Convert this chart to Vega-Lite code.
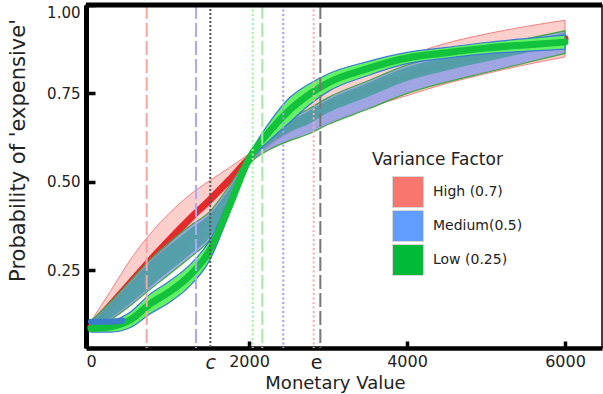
{
  "$schema": "https://vega.github.io/schema/vega-lite/v6.json",
  "width": 516,
  "height": 343,
  "autosize": {"type": "none"},
  "padding": {"left": 86, "top": 5, "right": 1, "bottom": 46},
  "background": "white",
  "config": {"view": {"stroke": "black", "strokeWidth": 1.5}, "font": "DejaVu Sans", "axis": {"grid": false}},
  "datasets": {
    "curves": [
      {"series": "High", "x": 0, "mid": 0.090, "lo": 0.075, "hi": 0.105},
      {"series": "High", "x": 250, "mid": 0.152, "lo": 0.112, "hi": 0.192},
      {"series": "High", "x": 500, "mid": 0.215, "lo": 0.150, "hi": 0.280},
      {"series": "High", "x": 750, "mid": 0.278, "lo": 0.203, "hi": 0.353},
      {"series": "High", "x": 1000, "mid": 0.338, "lo": 0.263, "hi": 0.413},
      {"series": "High", "x": 1250, "mid": 0.395, "lo": 0.327, "hi": 0.463},
      {"series": "High", "x": 1500, "mid": 0.448, "lo": 0.393, "hi": 0.503},
      {"series": "High", "x": 1750, "mid": 0.505, "lo": 0.470, "hi": 0.540},
      {"series": "High", "x": 2000, "mid": 0.565, "lo": 0.550, "hi": 0.580},
      {"series": "High", "x": 2250, "mid": 0.612, "lo": 0.592, "hi": 0.632},
      {"series": "High", "x": 2500, "mid": 0.648, "lo": 0.618, "hi": 0.678},
      {"series": "High", "x": 2750, "mid": 0.682, "lo": 0.644, "hi": 0.720},
      {"series": "High", "x": 3000, "mid": 0.712, "lo": 0.667, "hi": 0.757},
      {"series": "High", "x": 3500, "mid": 0.760, "lo": 0.708, "hi": 0.812},
      {"series": "High", "x": 4000, "mid": 0.800, "lo": 0.744, "hi": 0.856},
      {"series": "High", "x": 4500, "mid": 0.835, "lo": 0.778, "hi": 0.892},
      {"series": "High", "x": 5000, "mid": 0.862, "lo": 0.806, "hi": 0.918},
      {"series": "High", "x": 5500, "mid": 0.885, "lo": 0.831, "hi": 0.939},
      {"series": "High", "x": 6000, "mid": 0.905, "lo": 0.853, "hi": 0.957},
      {"series": "Medium", "x": 0, "mid": 0.095, "lo": 0.083, "hi": 0.107, "tlo": 0.087, "thi": 0.103},
      {"series": "Medium", "x": 250, "mid": 0.135, "lo": 0.110, "hi": 0.160, "tlo": 0.115, "thi": 0.155},
      {"series": "Medium", "x": 500, "mid": 0.185, "lo": 0.150, "hi": 0.220, "tlo": 0.157, "thi": 0.213},
      {"series": "Medium", "x": 750, "mid": 0.238, "lo": 0.196, "hi": 0.280, "tlo": 0.204, "thi": 0.272},
      {"series": "Medium", "x": 1000, "mid": 0.285, "lo": 0.240, "hi": 0.330, "tlo": 0.249, "thi": 0.321},
      {"series": "Medium", "x": 1250, "mid": 0.330, "lo": 0.285, "hi": 0.375, "tlo": 0.294, "thi": 0.366},
      {"series": "Medium", "x": 1500, "mid": 0.375, "lo": 0.335, "hi": 0.415, "tlo": 0.343, "thi": 0.407},
      {"series": "Medium", "x": 1750, "mid": 0.460, "lo": 0.432, "hi": 0.488, "tlo": 0.440, "thi": 0.480},
      {"series": "Medium", "x": 2000, "mid": 0.560, "lo": 0.548, "hi": 0.572, "tlo": 0.552, "thi": 0.568},
      {"series": "Medium", "x": 2250, "mid": 0.610, "lo": 0.590, "hi": 0.630, "tlo": 0.605, "thi": 0.625},
      {"series": "Medium", "x": 2500, "mid": 0.645, "lo": 0.615, "hi": 0.675, "tlo": 0.640, "thi": 0.670},
      {"series": "Medium", "x": 2750, "mid": 0.670, "lo": 0.635, "hi": 0.705, "tlo": 0.663, "thi": 0.699},
      {"series": "Medium", "x": 3000, "mid": 0.700, "lo": 0.662, "hi": 0.738, "tlo": 0.695, "thi": 0.732},
      {"series": "Medium", "x": 3500, "mid": 0.745, "lo": 0.705, "hi": 0.785, "tlo": 0.740, "thi": 0.779},
      {"series": "Medium", "x": 4000, "mid": 0.790, "lo": 0.750, "hi": 0.830, "tlo": 0.785, "thi": 0.824},
      {"series": "Medium", "x": 4500, "mid": 0.820, "lo": 0.782, "hi": 0.858, "tlo": 0.815, "thi": 0.852},
      {"series": "Medium", "x": 5000, "mid": 0.845, "lo": 0.809, "hi": 0.881, "tlo": 0.840, "thi": 0.875},
      {"series": "Medium", "x": 5500, "mid": 0.870, "lo": 0.836, "hi": 0.904, "tlo": 0.865, "thi": 0.898},
      {"series": "Medium", "x": 6000, "mid": 0.895, "lo": 0.863, "hi": 0.927, "tlo": 0.890, "thi": 0.921},
      {"series": "Low", "x": 0, "mid": 0.085, "lo": 0.075, "hi": 0.095},
      {"series": "Low", "x": 250, "mid": 0.090, "lo": 0.075, "hi": 0.105},
      {"series": "Low", "x": 500, "mid": 0.110, "lo": 0.088, "hi": 0.132},
      {"series": "Low", "x": 750, "mid": 0.155, "lo": 0.127, "hi": 0.183},
      {"series": "Low", "x": 1000, "mid": 0.190, "lo": 0.160, "hi": 0.220},
      {"series": "Low", "x": 1250, "mid": 0.235, "lo": 0.205, "hi": 0.265},
      {"series": "Low", "x": 1500, "mid": 0.305, "lo": 0.277, "hi": 0.333},
      {"series": "Low", "x": 1750, "mid": 0.430, "lo": 0.410, "hi": 0.450},
      {"series": "Low", "x": 2000, "mid": 0.565, "lo": 0.555, "hi": 0.575},
      {"series": "Low", "x": 2250, "mid": 0.640, "lo": 0.615, "hi": 0.665},
      {"series": "Low", "x": 2500, "mid": 0.700, "lo": 0.665, "hi": 0.735},
      {"series": "Low", "x": 2750, "mid": 0.745, "lo": 0.715, "hi": 0.775},
      {"series": "Low", "x": 3000, "mid": 0.780, "lo": 0.755, "hi": 0.805},
      {"series": "Low", "x": 3500, "mid": 0.820, "lo": 0.800, "hi": 0.840},
      {"series": "Low", "x": 4000, "mid": 0.850, "lo": 0.834, "hi": 0.866},
      {"series": "Low", "x": 4500, "mid": 0.865, "lo": 0.850, "hi": 0.880},
      {"series": "Low", "x": 5000, "mid": 0.878, "lo": 0.862, "hi": 0.894},
      {"series": "Low", "x": 5500, "mid": 0.887, "lo": 0.869, "hi": 0.905},
      {"series": "Low", "x": 6000, "mid": 0.895, "lo": 0.875, "hi": 0.915}
    ],
    "blueStart": [
      {"x": 0, "y": 0.104},
      {"x": 200, "y": 0.104},
      {"x": 400, "y": 0.108}
    ],
    "markers": [
      {"marker": "High a", "x": 705},
      {"marker": "Medium a", "x": 1329},
      {"marker": "c", "x": 1510},
      {"marker": "Low a", "x": 2047},
      {"marker": "Low b", "x": 2168},
      {"marker": "Medium b", "x": 2434},
      {"marker": "High b", "x": 2819},
      {"marker": "e", "x": 2903}
    ],
    "frame": [{"y": 1.0}],
    "legendRows": [
      {"series": "High (0.7)", "x": -1000, "y": 0},
      {"series": "Medium(0.5)", "x": -1000, "y": 0},
      {"series": "Low (0.25)", "x": -1000, "y": 0}
    ]
  },
  "layer": [
    {
      "data": {"name": "curves"},
      "transform": [{"filter": "datum.series == 'High'"}],
      "mark": {"type": "area", "interpolate": "monotone", "fill": "#f8766d", "fillOpacity": 0.35, "stroke": "#f08080", "strokeWidth": 1},
      "encoding": {
        "x": {
          "field": "x", "type": "quantitative",
          "scale": {"domain": [-63, 6468], "nice": false, "zero": false},
          "axis": {
            "values": [0, 1510, 2000, 2850, 4000, 6000],
            "labelExpr": "datum.value == 1510 ? 'c' : (datum.value == 2850 ? 'e' : format(datum.value, 'd'))",
            "title": "Monetary Value",
            "grid": false,
            "domainColor": "black", "domainWidth": 4.5,
            "tickColor": "black", "tickWidth": 3.5, "tickSize": -7,
            "tickOpacity": {"condition": {"test": "datum.value == 0 || datum.value == 1510 || datum.value == 2850", "value": 0}, "value": 1},
            "labelFontSize": {"condition": {"test": "datum.value == 1510 || datum.value == 2850", "value": 19}, "value": 16},
            "labelFontStyle": {"condition": {"test": "datum.value == 1510", "value": "italic"}, "value": "normal"},
            "labelFont": "DejaVu Sans", "labelColor": "#222222", "labelPadding": 12,
            "labelFlush": false, "labelOverlap": false,
            "titleFont": "DejaVu Sans", "titleFontSize": 18, "titleFontWeight": "normal", "titleColor": "#222222",
            "titleX": 249, "titleY": 35, "titleBaseline": "middle", "titleAlign": "center"
          }
        },
        "y": {
          "field": "lo", "type": "quantitative",
          "scale": {"domain": [0.03, 1.0], "nice": false, "zero": false},
          "axis": {
            "values": [0.25, 0.5, 0.75, 1.0], "format": ".2f",
            "title": "Probability of 'expensive'",
            "grid": false,
            "domainColor": "black", "domainWidth": 5,
            "tickColor": "black", "tickWidth": 3.5, "tickSize": -9,
            "labelFont": "DejaVu Sans", "labelFontSize": 15, "labelColor": "#222222", "labelPadding": 15, "labelFlush": true,
            "titleFont": "DejaVu Sans", "titleFontSize": 21, "titleFontWeight": "normal", "titleColor": "#222222",
            "titleX": -68, "titleY": 145, "titleBaseline": "middle", "titleAlign": "center", "titleAngle": -90
          }
        },
        "y2": {"field": "hi"}
      }
    },
    {
      "data": {"name": "curves"},
      "transform": [{"filter": "datum.series == 'High'"}],
      "mark": {"type": "line", "interpolate": "monotone", "color": "#e32b2b", "strokeWidth": 7, "strokeCap": "round"},
      "encoding": {
        "x": {"field": "x", "type": "quantitative", "scale": {"domain": [-63, 6468], "nice": false, "zero": false}},
        "y": {"field": "mid", "type": "quantitative", "scale": {"domain": [0.03, 1.0], "nice": false, "zero": false}}
      }
    },
    {
      "data": {"name": "curves"},
      "transform": [{"filter": "datum.series == 'Medium'"}],
      "mark": {"type": "area", "interpolate": "monotone", "fill": "#8e9ce6", "fillOpacity": 0.85, "stroke": "#3fa83f", "strokeWidth": 1.2},
      "encoding": {
        "x": {"field": "x", "type": "quantitative", "scale": {"domain": [-63, 6468], "nice": false, "zero": false}},
        "y": {"field": "lo", "type": "quantitative", "scale": {"domain": [0.03, 1.0], "nice": false, "zero": false}},
        "y2": {"field": "hi"}
      }
    },
    {
      "data": {"name": "curves"},
      "transform": [{"filter": "datum.series == 'Medium'"}],
      "mark": {"type": "area", "interpolate": "monotone", "fill": "#4d9ea3", "fillOpacity": 0.9},
      "encoding": {
        "x": {"field": "x", "type": "quantitative", "scale": {"domain": [-63, 6468], "nice": false, "zero": false}},
        "y": {"field": "tlo", "type": "quantitative", "scale": {"domain": [0.03, 1.0], "nice": false, "zero": false}},
        "y2": {"field": "thi"}
      }
    },
    {
      "data": {"name": "curves"},
      "transform": [{"filter": "datum.series == 'Low'"}],
      "mark": {"type": "area", "interpolate": "monotone", "fill": "#62f262", "fillOpacity": 1, "stroke": "#3b78d8", "strokeWidth": 1.2},
      "encoding": {
        "x": {"field": "x", "type": "quantitative", "scale": {"domain": [-63, 6468], "nice": false, "zero": false}},
        "y": {"field": "lo", "type": "quantitative", "scale": {"domain": [0.03, 1.0], "nice": false, "zero": false}},
        "y2": {"field": "hi"}
      }
    },
    {
      "data": {"name": "curves"},
      "transform": [{"filter": "datum.series == 'Low'"}],
      "mark": {"type": "line", "interpolate": "monotone", "color": "#12c23c", "strokeWidth": 7, "strokeCap": "round"},
      "encoding": {
        "x": {"field": "x", "type": "quantitative", "scale": {"domain": [-63, 6468], "nice": false, "zero": false}},
        "y": {"field": "mid", "type": "quantitative", "scale": {"domain": [0.03, 1.0], "nice": false, "zero": false}}
      }
    },
    {
      "data": {"name": "blueStart"},
      "mark": {"type": "line", "interpolate": "monotone", "color": "#3a7dc9", "strokeWidth": 6, "strokeCap": "round"},
      "encoding": {
        "x": {"field": "x", "type": "quantitative", "scale": {"domain": [-63, 6468], "nice": false, "zero": false}},
        "y": {"field": "y", "type": "quantitative", "scale": {"domain": [0.03, 1.0], "nice": false, "zero": false}}
      }
    },
    {
      "data": {"name": "markers"},
      "mark": {"type": "rule", "strokeWidth": 2},
      "encoding": {
        "x": {"field": "x", "type": "quantitative", "scale": {"domain": [-63, 6468], "nice": false, "zero": false}},
        "stroke": {
          "field": "marker", "type": "nominal", "legend": null,
          "scale": {
            "domain": ["High a", "Medium a", "c", "Low a", "Low b", "Medium b", "High b", "e"],
            "range": ["#f4a6a6", "#aaaaf8", "#555555", "#a0f0a0", "#a0f0a0", "#9c9cf4", "#f8aaaa", "#777777"]
          }
        },
        "strokeDash": {
          "field": "marker", "type": "nominal", "legend": null,
          "scale": {
            "domain": ["High a", "Medium a", "c", "Low a", "Low b", "Medium b", "High b", "e"],
            "range": [[14, 4], [14, 4], [2, 2], [2, 2.5], [14, 4], [2, 2.5], [2, 2.5], [14, 4]]
          }
        }
      }
    },
    {
      "data": {"name": "frame"},
      "mark": {"type": "rule", "color": "black", "strokeWidth": 5},
      "encoding": {
        "y": {"field": "y", "type": "quantitative", "scale": {"domain": [0.03, 1.0], "nice": false, "zero": false}}
      }
    },
    {
      "data": {"name": "legendRows"},
      "mark": {"type": "square", "clip": true, "filled": true},
      "encoding": {
        "x": {"field": "x", "type": "quantitative", "scale": {"domain": [-63, 6468], "nice": false, "zero": false}},
        "y": {"field": "y", "type": "quantitative", "scale": {"domain": [0.03, 1.0], "nice": false, "zero": false}},
        "fill": {
          "field": "series", "type": "nominal",
          "scale": {"domain": ["High (0.7)", "Medium(0.5)", "Low (0.25)"], "range": ["#f8766d", "#619cff", "#00ba38"]},
          "legend": {
            "title": "Variance Factor",
            "orient": "none", "legendX": 286, "legendY": 147,
            "symbolType": "square", "symbolSize": 961, "symbolStrokeColor": "#d8d8d8", "symbolStrokeWidth": 1, "symbolOffset": 20, "symbolOpacity": 1,
            "labelFont": "DejaVu Sans", "labelFontSize": 14, "labelColor": "#222222", "labelOffset": 9,
            "titleFont": "DejaVu Sans", "titleFontSize": 17, "titleFontWeight": "normal", "titleColor": "#222222", "titlePadding": 7,
            "rowPadding": -5, "padding": 0
          }
        }
      }
    }
  ]
}
